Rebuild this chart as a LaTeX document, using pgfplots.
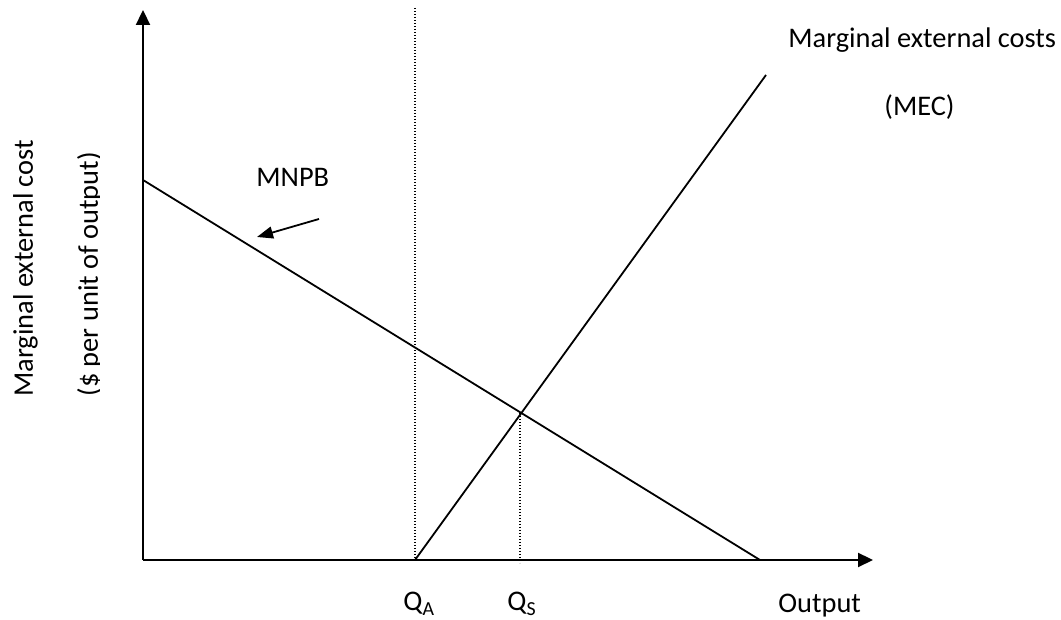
\documentclass[border=0pt]{standalone}
\usepackage{fontspec}
\setmainfont{Carlito}
\usepackage{pgfplots}
\pgfplotsset{compat=1.18}
\usetikzlibrary{arrows.meta}
\newcommand{\lbl}{\fontsize{14.2}{17}\selectfont}
\begin{document}
\begin{tikzpicture}
\begin{axis}[
  scale only axis,
  width=365pt, height=275pt,
  xmin=143, xmax=873, ymin=60, ymax=610,
  axis lines=left,
  axis line style={line width=1.1pt, -{Triangle[length=7.5pt,width=7pt]}},
  ticks=none,
  clip=false,
]
\path (axis cs:0,0) rectangle (axis cs:1061,620);
% MNPB
\addplot[black, line width=0.9pt] coordinates {(143,440) (760,60)};
% MEC
\addplot[black, line width=0.9pt] coordinates {(415,60) (766,545)};
% Q_A dotted
\addplot[black, line width=0.6pt, dash pattern=on 0.6pt off 0.9pt] coordinates {(415,612) (415,60)};
% Q_S dotted
\addplot[black, line width=0.6pt, dash pattern=on 0.6pt off 0.9pt] coordinates {(520,207) (520,57)};
% arrow to MNPB
\addplot[black, line width=0.9pt, -{Triangle[length=8pt,width=6pt]}] coordinates {(319,401) (257,383)};
\node[anchor=base west, inner sep=0pt, font=\lbl] at (axis cs:788,572) {Marginal external costs};
\node[anchor=base west, inner sep=0pt, font=\lbl] at (axis cs:884,504) {(MEC)};
\node[anchor=base west, inner sep=0pt, font=\lbl] at (axis cs:256,433) {MNPB};
\node[anchor=base west, inner sep=0pt, font=\lbl] at (axis cs:778,7) {Output};
\node[anchor=base west, inner sep=0pt, font=\lbl] at (axis cs:403,9) {Q\textsubscript{A}};
\node[anchor=base west, inner sep=0pt, font=\lbl] at (axis cs:507,9) {Q\textsubscript{S}};
\node[rotate=90, anchor=base west, inner sep=0pt, font=\lbl] at (axis cs:33,223) {Marginal external cost};
\begin{scope}
\clip (axis cs:0,0) rectangle (axis cs:100,620);
\node[rotate=90, anchor=base west, inner sep=0pt, font=\lbl] at (axis cs:98,223) {(\$ per unit of output)};
\end{scope}
\end{axis}
\end{tikzpicture}
\end{document}
